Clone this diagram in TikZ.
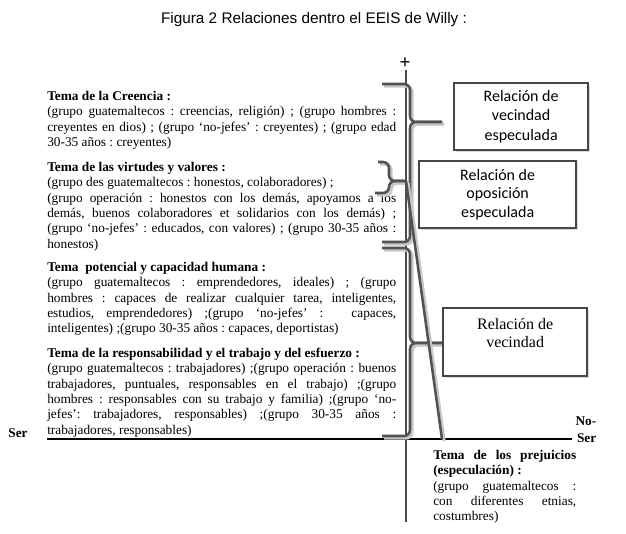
\documentclass[tikz,border=0pt]{standalone}
\usepackage{fontspec}
\setmainfont{Liberation Serif}
\newfontfamily\calibri{Carlito}
\newfontfamily\arial{Liberation Sans}
\usetikzlibrary{shadows}

\tikzset{
  tema/.style={anchor=north west, inner sep=0pt, text width=261.75pt, align=justify,
    font=\fontsize{10}{11.5}\selectfont,
    execute at begin node={\frenchspacing\tolerance=10000\relax\hyphenpenalty=10000\relax}},
  caja/.style={draw=black!72, line width=1.7pt, fill=white, inner sep=0pt, align=center, anchor=north west,
    drop shadow={shadow xshift=1.5pt, shadow yshift=-1.5pt, opacity=.3}},
  llave/.style={draw=black!68, line width=1.9pt, rounded corners=4.5pt,
    preaction={draw=black!22, line width=2.4pt, transform canvas={shift={(1.6pt,-1.6pt)}}}},
  eje/.style={draw=black!70, line width=0.9pt}
}

\begin{document}
\begin{tikzpicture}[x=0.75pt,y=-0.75pt]
\useasboundingbox (0,0) rectangle (626,533);

% titulo
\node[font=\arial\fontsize{11.5}{13}\selectfont] (titulo) at (314,20) {Figura 2 Relaciones dentro el EEIS de Willy :};

% ejes
\node[font=\arial\fontsize{14}{14}\selectfont, inner sep=0pt] (mas) at (405,63) {+};
\coordinate (ejearr) at (406,70);
\coordinate (ejeab) at (406,522);
\coordinate (ejeizq) at (47,439);
\coordinate (ejeder) at (572,439);
\draw[eje] (ejearr) -- (ejeab);
\draw[black, line width=0.8pt] (ejeizq) -- (ejeder);
\node[font=\bfseries\fontsize{10}{12}\selectfont] (ser) at (18,433) {Ser};
\node[anchor=east, align=right, font=\bfseries\fontsize{10}{12.75}\selectfont] (noser) at (601,430) {No-\\Ser};

% temas
\node[tema] (creencia) at (47,91) {\textbf{Tema de la Creencia :}\\
(grupo guatemaltecos : creencias, religión) ; (grupo hombres :\linebreak
creyentes en dios) ; (grupo ‘no-jefes’ : creyentes) ; (grupo edad\linebreak
30-35 años : creyentes)};

\node[tema] (virtudes) at (47,162) {\textbf{Tema de las virtudes y valores :}\\
(grupo des guatemaltecos : honestos, colaboradores) ;\\
(grupo operación : honestos con los demás, apoyamos a los\linebreak
demás, buenos colaboradores et solidarios con los demás) ;\linebreak
(grupo ‘no-jefes’ : educados, con valores) ; (grupo 30-35 años :\linebreak
honestos)};

\node[tema] (potencial) at (47,262) {\textbf{Tema\ \ potencial y capacidad humana :}\\
(grupo guatemaltecos : emprendedores, ideales) ; (grupo\linebreak
hombres : capaces de realizar cualquier tarea, inteligentes,\linebreak
estudios, emprendedores) ;(grupo ‘no-jefes’ :\hspace{12pt} capaces,\linebreak
inteligentes) ;(grupo 30-35 años : capaces, deportistas)};

\node[tema] (responsab) at (47,348) {\textbf{Tema de la responsabilidad y el trabajo y del esfuerzo :}\\
(grupo guatemaltecos : trabajadores) ;(grupo operación : buenos\linebreak
trabajadores, puntuales, responsables en el trabajo) ;(grupo\linebreak
hombres : responsables con su trabajo y familia) ;(grupo ‘no-\linebreak
jefes’: trabajadores, responsables) ;(grupo 30-35 años :\linebreak
trabajadores, responsables)};

\node[tema, text width=107.25pt] (prejuicios) at (433,450) {\textbf{Tema de los prejuicios\linebreak
(especulación) :}\\
(grupo guatemaltecos :\linebreak
con diferentes etnias,\linebreak
costumbres)};

% llaves
\coordinate (virt) at (406,181);
\coordinate (prej) at (442,439);
\draw[llave] (382,84) -| (410,122) -- (442,122);
\draw[llave] (442,122) -| (410,242) -- (382,242);
\draw[llave] (378,162) -| (389,181) -- (virt);
\draw[llave] (virt) -| (389,193) -- (375,193);
\draw[llave] (382,248) -| (410,343) -- (442,343);
\draw[llave] (442,343) -| (410,436) -- (382,436);
\draw[llave] (virt) -- (prej);

% relaciones
\node[caja, minimum width=100.5pt, minimum height=50.25pt, font=\calibri\fontsize{12}{14.5}\selectfont] (vecesp) at (453,82) {Relación de\\vecindad\\especulada};
\node[caja, minimum width=117.75pt, minimum height=50.25pt, font=\calibri\fontsize{12}{13.8}\selectfont] (oposesp) at (418,160) {Relación de\\oposición\\especulada};
\node[caja, minimum width=108pt, minimum height=51pt, font=\fontsize{12}{13.5}\selectfont] (vecindad) at (442,307) {Relación de\\vecindad\\\mbox{}};
\end{tikzpicture}
\end{document}
